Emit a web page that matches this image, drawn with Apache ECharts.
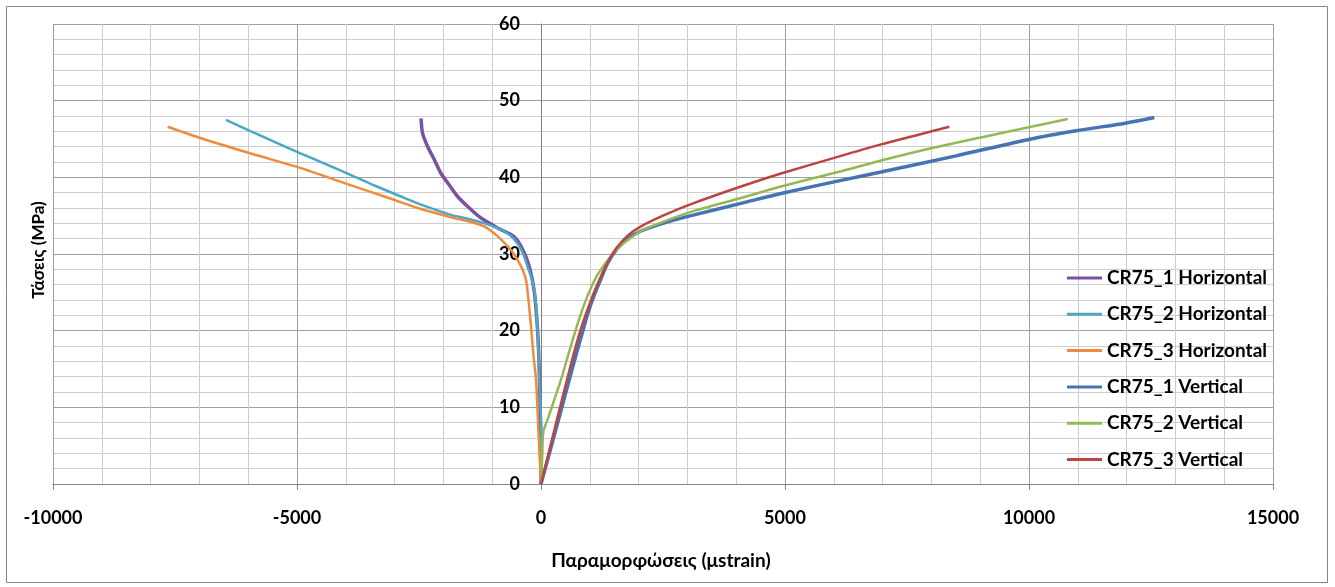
<!DOCTYPE html>
<html>
<head>
<meta charset="utf-8">
<script src="https://cdn.jsdelivr.net/npm/echarts@6/dist/echarts.min.js"></script>
<style>
html,body{margin:0;padding:0;background:#fff;}
#chart{width:1335px;height:587px;}
</style>
</head>
<body>
<div id="chart"></div>
<script>
// Series names
const seriesNames = ['CR75_1 Horizontal','CR75_2 Horizontal','CR75_3 Horizontal','CR75_1 Vertical','CR75_2 Vertical','CR75_3 Vertical'];

// [strain (μstrain), stress (MPa)]
const cr75_1_h = [[0,0],[-5,6],[-25,12],[-50,17.5],[-85,21.5],[-140,25.2],[-230,28.1],[-360,30.4],[-560,32.3],[-887,33.4],[-1230,34.7],[-1503,36.2],[-1708,37.5],[-1879,39.0],[-2049,40.5],[-2186,42.3],[-2322,44.0],[-2425,45.7],[-2459,47.7]];
const cr75_2_h = [[0,0],[5,7],[-34,13.6],[-55,17.5],[-75,20.5],[-100,23.2],[-137,25.3],[-200,27.0],[-273,28.3],[-350,29.8],[-444,31.0],[-560,32.0],[-690,32.7],[-850,33.3],[-1160,34.0],[-1500,34.6],[-1844,35.1],[-2400,36.3],[-2869,37.5],[-3400,38.9],[-3893,40.3],[-4400,41.7],[-4918,43.1],[-5450,44.6],[-5943,46.0],[-6455,47.5]];
const cr75_3_h = [[0,0],[-14,1.8],[-40,5.2],[-68,9.2],[-102,13.6],[-150,16.5],[-190,19.5],[-230,22.3],[-265,24.5],[-307,26.6],[-380,28.0],[-478,29.2],[-580,30.2],[-683,31.0],[-887,32.3],[-1161,33.6],[-1503,34.3],[-1844,34.8],[-2527,36.0],[-3210,37.5],[-4235,39.7],[-4918,41.2],[-5943,43.1],[-6967,45.1],[-7650,46.6]];
const cr75_1_v = [[0,0],[150,3.5],[300,7.0],[440,10.3],[580,13.6],[720,16.9],[850,19.8],[957,22.2],[1100,24.8],[1250,27.1],[1366,28.8],[1550,30.6],[1776,32.0],[2049,33.0],[2500,34.0],[3074,35.0],[4098,36.6],[4918,37.9],[6148,39.6],[6967,40.7],[8504,42.8],[10041,45.0],[11000,46.1],[12000,47.1],[12568,47.8]];
const cr75_2_v = [[0,0],[25,3.5],[47,6.8],[140,8.5],[273,11.0],[410,13.6],[547,16.6],[750,20.9],[957,24.6],[1150,27.2],[1366,29.2],[1550,30.6],[1776,31.8],[2049,33.0],[2500,34.2],[3074,35.5],[4098,37.3],[4918,38.8],[6148,40.8],[6967,42.2],[8060,43.9],[9084,45.3],[10041,46.6],[10793,47.6]];
const cr75_3_v = [[0,0],[140,3.6],[280,7.2],[410,10.5],[533,13.6],[680,17.2],[820,20.3],[957,22.8],[1100,25.2],[1250,27.4],[1366,28.9],[1550,30.8],[1776,32.4],[2049,33.6],[2500,35.0],[3074,36.5],[4098,38.8],[4918,40.5],[6148,42.8],[6967,44.3],[7700,45.5],[8367,46.6]];

const seriesData = [cr75_1_h, cr75_2_h, cr75_3_h, cr75_1_v, cr75_2_v, cr75_3_v];
const seriesColors = ['#7A52A3','#4AA8C2','#EE8B3E','#4674B2','#95B854','#BC4542'];
const seriesWidths = [3.5, 2.5, 2.5, 3.5, 2.5, 2.5];

// Axes
const xMin = -10000, xMax = 15000, xInterval = 5000;
const yMin = 0, yMax = 60, yInterval = 10;
const xTitle = 'Παραμορφώσεις (μstrain)';
const yTitle = 'Τάσεις (MPa)';

const FONT = 'Lato, "Open Sans", sans-serif';

const gridLeft = 53, gridRight = 62, gridTop = 24, gridBottom = 103;
const plotWidth = 1335 - gridLeft - gridRight;
// y axis crosses at x = 0
const yAxisOffset = -Math.round((0 - xMin) / (xMax - xMin) * plotWidth);

const chart = echarts.init(document.getElementById('chart'), null, {renderer: 'canvas'});
chart.setOption({
  animation: false,
  backgroundColor: '#fff',
  grid: {left: gridLeft, right: gridRight, top: gridTop, bottom: gridBottom, containLabel: false},
  xAxis: {
    type: 'value', min: xMin, max: xMax, interval: xInterval,
    axisLine: {show: true, onZero: false, lineStyle: {color: '#868686', width: 1}},
    axisTick: {show: true, length: 6, lineStyle: {color: '#868686'}},
    axisLabel: {color: '#000', fontFamily: FONT, fontWeight: 'bold', fontSize: 18, margin: 25, formatter: v => String(v)},
    splitLine: {show: true, lineStyle: {color: '#a0a0a0', width: 1}},
    minorTick: {show: false, splitNumber: 5},
    minorSplitLine: {show: true, lineStyle: {color: '#cdcdcd', width: 1}}
  },
  yAxis: {
    type: 'value', min: yMin, max: yMax, interval: yInterval,
    position: 'left', offset: yAxisOffset,
    axisLine: {show: true, onZero: false, lineStyle: {color: '#7f7f7f', width: 1}},
    axisTick: {show: false},
    axisLabel: {color: '#000', fontFamily: FONT, fontWeight: 'bold', fontSize: 18, margin: 21, formatter: v => String(v)},
    splitLine: {show: true, lineStyle: {color: '#a0a0a0', width: 1}},
    minorTick: {show: false, splitNumber: 5},
    minorSplitLine: {show: true, lineStyle: {color: '#cdcdcd', width: 1}}
  },
  legend: {
    orient: 'vertical', left: 1067, top: 268, padding: 0,
    data: seriesNames,
    icon: 'rect', itemWidth: 35, itemHeight: 3, itemGap: 16.3,
    textStyle: {color: '#000', fontFamily: FONT, fontWeight: 'bold', fontSize: 19, lineHeight: 20}
  },
  graphic: [
    {type: 'rect', shape: {x: 6.5, y: 6.5, width: 1321, height: 576}, style: {fill: 'none', stroke: '#868686', lineWidth: 1}, silent: true},
    {type: 'text', x: 661, y: 561, style: {text: xTitle, fill: '#000', font: 'bold 19px ' + FONT, textAlign: 'center', textVerticalAlign: 'middle'}},
    {type: 'text', x: 39, y: 250, rotation: Math.PI / 2, style: {text: yTitle, fill: '#000', font: 'bold 17px ' + FONT, textAlign: 'center', textVerticalAlign: 'middle'}}
  ],
  series: seriesNames.map((name, i) => ({
    name: name,
    type: 'line',
    data: seriesData[i],
    showSymbol: false,
    symbol: 'none',
    smooth: 0.25,
    color: seriesColors[i],
    lineStyle: {color: seriesColors[i], width: seriesWidths[i]}
  }))
});
</script>
</body>
</html>
